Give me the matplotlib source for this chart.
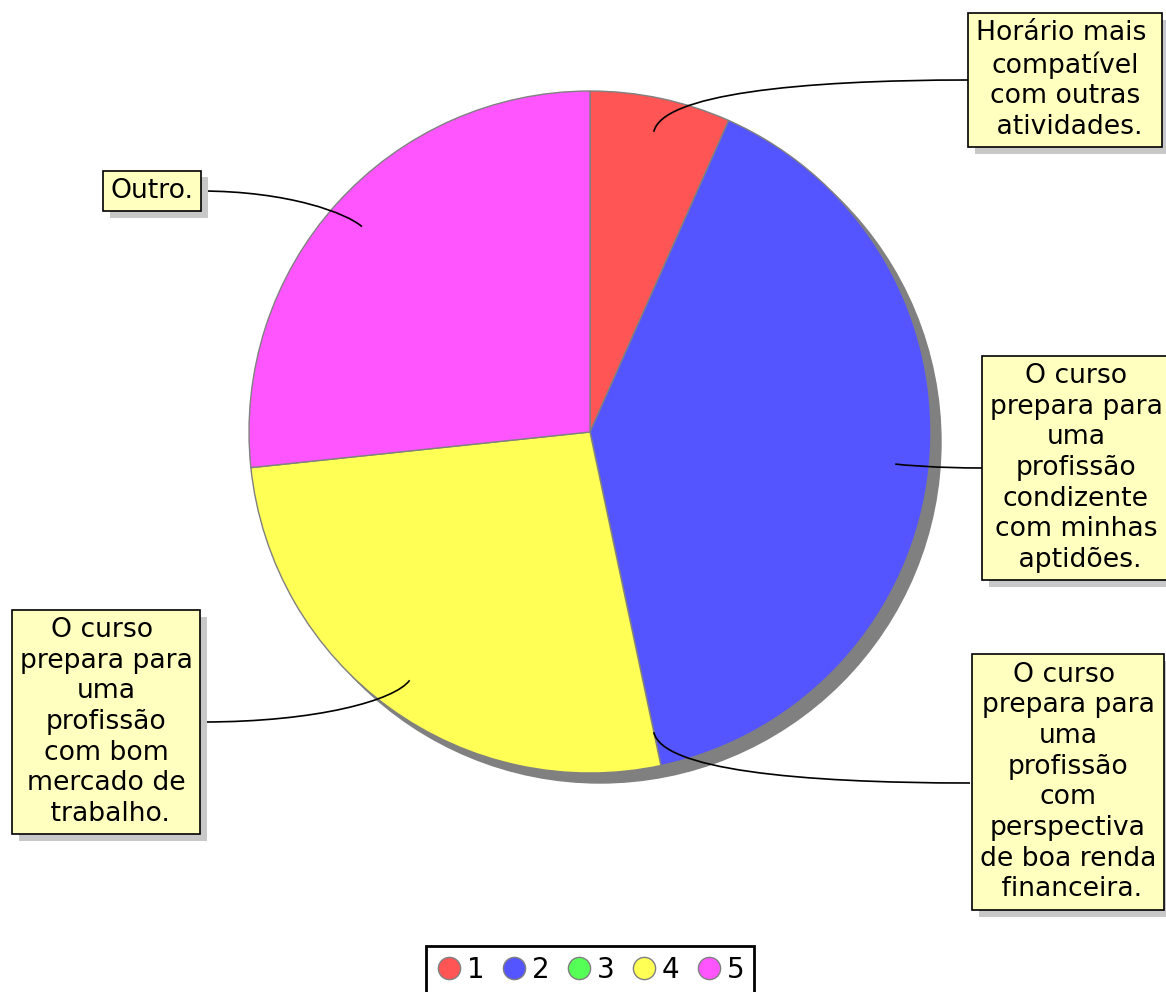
import matplotlib
matplotlib.use('Agg')
import matplotlib.pyplot as plt
import numpy as np
from matplotlib.path import Path
from matplotlib.patches import PathPatch, Circle
from matplotlib.lines import Line2D
import matplotlib.patheffects as pe

categories = ['1', '2', '3', '4', '5']
values = [1, 6, 0, 4, 4]
colors = ['#ff5555', '#5555ff', '#55ff55', '#ffff55', '#ff55ff']
labels = [
    'Horário mais \ncompatível\ncom outras\n atividades.',
    'O curso\nprepara para\numa\nprofissão\ncondizente\ncom minhas\n aptidões.',
    'O curso \nprepara para\numa\nprofissão\ncom\nperspectiva\nde boa renda\n financeira.',
    'O curso \nprepara para\numa\nprofissão\ncom bom\nmercado de\n trabalho.',
    'Outro.',
]
# box centres and the side of the box the leader line attaches to
label_pos = [(1065, 80), (1076, 468), (1068, 782), (106, 722), (152, 191)]
line_end = [(970, 80), (984, 468), (970, 783), (203, 722), (200, 191)]

W, H = 1166, 992
fig = plt.figure(figsize=(W / 100, H / 100), dpi=100)
ax = fig.add_axes([0, 0, 1, 1])

cx, cy, r = 590, 432, 341
ax.add_patch(Circle((cx + 10, cy + 10), r, color='#808080', zorder=0))
wedges, _ = ax.pie(values, colors=colors, startangle=-90, counterclock=True,
                   center=(cx, cy), radius=r,
                   wedgeprops=dict(edgecolor='#808080', linewidth=1))
for w in wedges:
    w.set_zorder(1)

ax.set_xlim(0, W)
ax.set_ylim(H, 0)
ax.set_aspect('equal')
ax.axis('off')

for w, text, (tx, ty), (ex, ey) in zip(wedges, labels, label_pos, line_end):
    mid = np.deg2rad((w.theta1 + w.theta2) / 2)
    ux, uy = np.cos(mid), np.sin(mid)
    ax0, ay0 = cx + 0.9 * r * ux, cy + 0.9 * r * uy
    dx = abs(ex - ax0)
    k1, k2 = 0.12 * dx, 0.55 * dx
    sgn = 1 if ex > ax0 else -1
    verts = [(ax0, ay0), (ax0 + ux * k1, ay0 + uy * k1), (ex - sgn * k2, ey), (ex, ey)]
    path = Path(verts, [Path.MOVETO, Path.CURVE4, Path.CURVE4, Path.CURVE4])
    ax.add_patch(PathPatch(path, fill=False, color='black', lw=1.2, zorder=3))
    t = ax.text(tx, ty, text, ha='center', va='center', fontsize=19.2,
                multialignment='center', linespacing=1.23, zorder=5,
                bbox=dict(boxstyle='square,pad=0.28', facecolor='#ffffc0',
                          edgecolor='black', linewidth=1.2))
    t.get_bbox_patch().set_path_effects([
        pe.SimplePatchShadow(offset=(5, -5), shadow_rgbFace='#c8c8c8', alpha=1),
        pe.Normal()])

handles = [Line2D([], [], marker='o', linestyle='', markersize=16,
                  markerfacecolor=c, markeredgecolor='#808080', markeredgewidth=1)
           for c in colors]
leg = fig.legend(handles, categories, loc='upper center', ncol=5,
                 bbox_to_anchor=(590 / W, 1 - 946 / H), fontsize=20,
                 frameon=True, fancybox=False, edgecolor='black', framealpha=1,
                 handletextpad=0.15, columnspacing=0.55, handlelength=1.0,
                 borderaxespad=0, borderpad=0.35)
leg.get_frame().set_linewidth(2)

fig.savefig('out.png', dpi=100)
